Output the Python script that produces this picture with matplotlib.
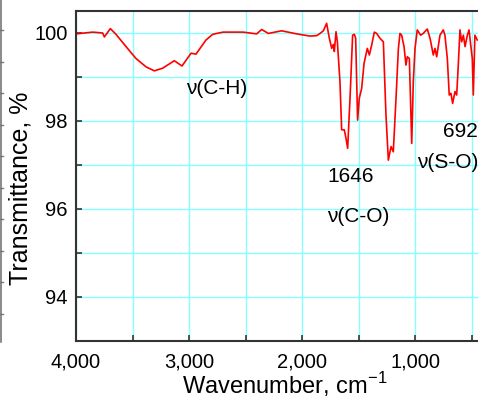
import numpy as np
import matplotlib
matplotlib.use('Agg')
import matplotlib.pyplot as plt
from matplotlib.ticker import MultipleLocator, FuncFormatter
from matplotlib.lines import Line2D

plt.rcParams['font.family'] = ['Liberation Sans', 'DejaVu Sans']

# IR spectrum (wavenumber in cm-1, transmittance in %)
wavenumber = [4000, 3852, 3764, 3749, 3696, 3646, 3557, 3469, 3380, 3307, 3233,
              3130, 3062, 2982, 2938, 2850, 2790, 2699, 2522, 2401, 2357, 2298,
              2180, 2047, 1929, 1870, 1841, 1811, 1782, 1758, 1737, 1723, 1714,
              1699, 1687, 1664, 1649, 1626, 1611, 1596, 1575, 1552, 1537, 1525,
              1508, 1493, 1472, 1451, 1422, 1404, 1383, 1360, 1339, 1310, 1280,
              1257, 1236, 1212, 1192, 1168, 1147, 1133, 1118, 1097, 1080, 1068,
              1050, 1029, 1015, 1000, 980, 950, 927, 891, 867, 838, 823, 808,
              779, 750, 735, 714, 697, 682, 667, 646, 631, 617, 602, 587, 572,
              557, 537, 522, 507, 493, 484, 470, 449]
transmittance = [99.98, 100.02, 100.0, 99.91, 100.1, 99.97, 99.69, 99.42, 99.23,
                 99.14, 99.2, 99.37, 99.25, 99.54, 99.52, 99.84, 99.97, 100.02,
                 100.02, 99.98, 100.08, 99.99, 100.05, 99.98, 99.93, 99.94, 99.99,
                 100.05, 100.22, 99.88, 99.65, 99.74, 99.58, 100.03, 99.8, 98.89,
                 97.8, 97.8, 97.61, 97.38, 98.52, 99.95, 99.97, 99.88, 98.02,
                 98.52, 98.74, 99.31, 99.65, 99.5, 99.73, 100.02, 99.99, 99.88,
                 99.8, 98.14, 97.11, 97.42, 97.3, 98.52, 99.65, 99.99, 99.95,
                 99.69, 99.27, 99.46, 99.42, 97.49, 98.89, 99.65, 100.07, 99.95,
                 99.99, 100.09, 99.88, 99.5, 99.65, 99.46, 99.95, 100.07, 99.95,
                 99.42, 98.59, 98.63, 98.4, 98.67, 98.59, 99.27, 100.07, 99.8,
                 99.95, 99.69, 99.95, 100.07, 99.73, 99.42, 98.59, 99.95, 99.84]

x_ticks = [4000, 3000, 2000, 1000]
y_ticks = [94, 96, 98, 100]

W, H = 478, 398
fig = plt.figure(figsize=(W / 100, H / 100), dpi=100)
ax = fig.add_axes([76 / W, 1 - 341 / H, (482.8 - 76) / W, (341 - 11) / H])

ax.plot(wavenumber, transmittance, color='red', lw=1.2)

ax.set_xlim(4000, 400)
ax.set_ylim(93, 100.5)
ax.set_xticks(x_ticks)
ax.set_yticks(y_ticks)
ax.xaxis.set_minor_locator(MultipleLocator(500))
ax.yaxis.set_minor_locator(MultipleLocator(1))
ax.xaxis.set_major_formatter(FuncFormatter(lambda v, p: f'{int(v):,}'))
ax.grid(True, which='both', color='#88ffff', lw=1.0)
ax.set_axisbelow(True)
ax.tick_params(which='both', direction='in', length=4, width=1.2, color='#333333',
               top=False, right=False)
ax.tick_params(axis='x', labelsize=14.5, pad=8)
ax.tick_params(axis='y', labelsize=14.5, pad=6)
for s in ax.spines.values():
    s.set_color('#333333')
    s.set_linewidth(1.5)

# band labels
ax.text(3027, 98.74, 'ν(C-H)', fontsize=15, va='center', ha='left')
ax.text(1779, 96.74, '1646', fontsize=15, va='center', ha='left')
ax.text(1779, 95.83, 'ν(C-O)', fontsize=15, va='center', ha='left')
ax.text(752, 97.76, '692', fontsize=15, va='center', ha='left')
ax.text(982, 97.05, 'ν(S-O)', fontsize=15, va='center', ha='left')

fig.text(182 / W, 1 - 394 / H, r'Wavenumber, cm$^{\mathregular{-1}}$', fontsize=17,
         ha='left', va='baseline')
fig.text(21 / W, 1 - 188 / H, 'Transmittance, %', fontsize=18, rotation=90,
         ha='center', va='center')

# edge of the neighbouring panel, with its small ticks
fig.add_artist(Line2D([0.5 / W, 0.5 / W], [1, 1 - 342 / H], color='#777777', lw=1.2))
for ty in np.arange(30, 342, 31.5):
    fig.add_artist(Line2D([0, 3 / W], [1 - ty / H, 1 - ty / H], color='#777777', lw=1.0))

fig.savefig('out.png', dpi=100)
